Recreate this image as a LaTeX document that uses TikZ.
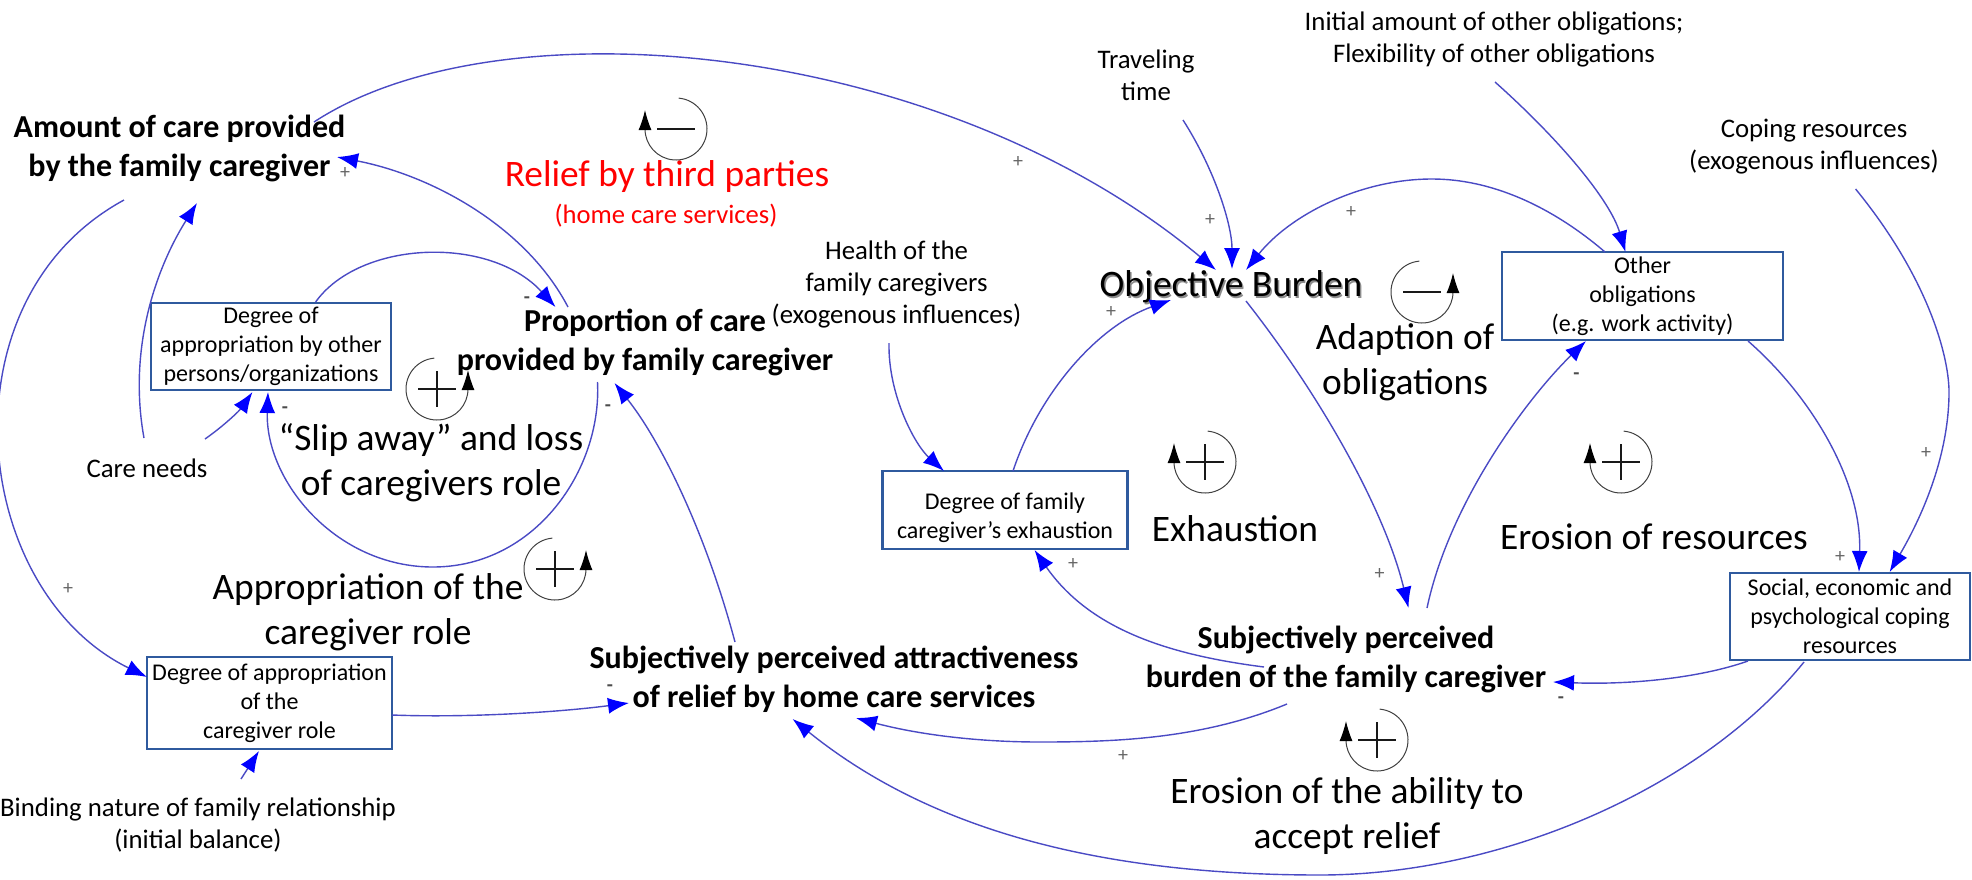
\documentclass[tikz,border=0pt]{standalone}
\usepackage{fontspec}
\setmainfont{Carlito}
\usetikzlibrary{arrows.meta}
\definecolor{lnkc}{HTML}{4A4AC4}
\definecolor{boxc}{HTML}{2F5A9E}
\definecolor{sgnc}{HTML}{666666}
\tikzset{
  x=0.5pt,y=-0.5pt,
  lnk/.style={draw=lnkc,line width=0.7pt,-{Latex[length=10.5pt,width=8pt,color=blue,fill=blue]}},
  blk/.style={inner sep=0pt,align=center},
  small/.style={blk,font=\fontsize{13.4}{16}\selectfont},
  boxt/.style={blk,draw=boxc,line width=1.2pt,font=\fontsize{12}{14.5}\selectfont},
  strong/.style={blk,font=\fontsize{16}{19.5}\selectfont\bfseries},
  large/.style={blk,font=\fontsize{18.7}{22.5}\selectfont},
  redl/.style={blk,text=red},
  sgn/.style={inner sep=0pt,text=sgnc,font=\fontsize{10}{10}\selectfont},
  sgm/.style={inner sep=0pt,text=black!70,font=\fontsize{10}{10}\selectfont\bfseries},
  looparc/.style={draw=black!75,line width=0.5pt},
  loopsign/.style={draw=black!90,line width=1pt},
  looptip/.style={draw=black,line width=0.5pt,-{Latex[length=10pt,width=6.5pt,color=black]}}
}
% centre x, centre y: arrow on the right of the circle
\newcommand{\loopright}[3][plus]{%
  \coordinate (lc) at (#2,#3);
  \draw[looparc] ([shift={(95:15.5pt)}]lc) arc[start angle=95,end angle=360,radius=15.5pt];
  \draw[looptip] ([shift={(31,0)}]lc) -- ([shift={(31,-19)}]lc);
  \draw[loopsign] ([shift={(-19,0)}]lc) -- ([shift={(19,0)}]lc);
  \ifx#1p\draw[loopsign] ([shift={(0,-18)}]lc) -- ([shift={(0,18)}]lc);\fi
}
\newcommand{\loopleft}[3][plus]{%
  \coordinate (lc) at (#2,#3);
  \draw[looparc] ([shift={(85:15.5pt)}]lc) arc[start angle=85,end angle=-180,radius=15.5pt];
  \draw[looptip] ([shift={(-31,0)}]lc) -- ([shift={(-31,-19)}]lc);
  \draw[loopsign] ([shift={(-19,0)}]lc) -- ([shift={(19,0)}]lc);
  \ifx#1p\draw[loopsign] ([shift={(0,-18)}]lc) -- ([shift={(0,18)}]lc);\fi
}
\begin{document}
\begin{tikzpicture}
\useasboundingbox (0,0) rectangle (1972,879);
% main variables
\node[strong] (amt) at (179.5,148.5) {Amount of care provided\\by the family caregiver};
\node[strong] (prop) at (645,342.5) {Proportion of care\\provided by family caregiver};
\node[strong] (attr) at (834,679) {Subjectively perceived attractiveness\\of relief by home care services};
\node[strong] (subb) at (1346,659.5) {Subjectively perceived\\burden of the family caregiver};
\node[blk,text=black!45,font=\fontsize{18.7}{22}\selectfont] (objs) at (1232.5,289) {Objective Burden};
\node[blk,font=\fontsize{18.7}{22}\selectfont] (obj) at (1231,287) {Objective Burden};
% boxes
\node[boxt,minimum width=120pt,minimum height=43.5pt] (apb) at (271,346.5) {Degree of\\appropriation by other\\persons/organizations};
\node[boxt,minimum width=122.5pt,minimum height=46pt] (dab) at (269.5,703) {Degree of appropriation\\of the\\caregiver role};
\node[boxt,minimum width=122.5pt,minimum height=39pt] (dfe) at (1005,510) {\rule{0pt}{16pt}Degree of family\\caregiver’s exhaustion};
\node[boxt,minimum width=140.5pt,minimum height=44pt] (oth) at (1642.5,296) {Other\\obligations\\(e.g. work activity)};
\node[boxt,minimum width=120pt,minimum height=43.5pt] (soc) at (1850,616.5) {Social, economic and\\psychological coping\\resources};
% exogenous labels
\node[small] (care) at (147,468) {Care needs};
\node[small] (bind) at (198,825) {Binding nature of family relationship\\(initial balance)};
\node[small] (health) at (896.5,284) {Health of the\\family caregivers\\(exogenous influences)};
\node[small] (trav) at (1146,75) {Traveling\\time};
\node[small] (init) at (1494,39) {Initial amount of other obligations;\\Flexibility of other obligations};
\node[small] (coping) at (1814,147) {Coping resources\\(exogenous influences)};
% loop names
\node[redl,font=\fontsize{18.7}{22}\selectfont] (relief) at (667,177) {Relief by third parties};
\node[redl,font=\fontsize{13.3}{16}\selectfont] (home) at (666,216) {(home care services)};
\node[large] (slip) at (431,462.5) {“Slip away” and loss\\of caregivers role};
\node[large] (appr) at (368,612.5) {Appropriation of the\\caregiver role};
\node[large] (adap) at (1405,362.5) {Adaption of\\obligations};
\node[large] (exh) at (1235,529) {Exhaustion};
\node[large] (eres) at (1654,537) {Erosion of resources};
\node[large] (eabl) at (1347,816.5) {Erosion of the ability to\\accept relief};
% loop symbols
\loopleft[m]{676}{129}
\loopright[m]{1422}{292}
\loopright[p]{437}{389}
\loopright[p]{555}{569}
\loopleft[p]{1205}{462}
\loopleft[p]{1621}{462}
\loopleft[p]{1377}{740}
% connectors
\draw[lnk] ([shift={(134.5,-26.5)}]amt.center) .. controls (500,0) and (940,40) .. ([shift={(-15,-17)}]obj.center);
\draw[lnk] ([shift={(-77,-35.5)}]prop.center) .. controls (525,225) and (430,175) .. ([shift={(157.5,8.5)}]amt.center);
\draw[lnk] ([shift={(-3,-30)}]care.center) .. controls (128,350) and (155,270) .. ([shift={(17.5,54.5)}]amt.center);
\draw[lnk] ([shift={(-55.5,51.5)}]amt.center) .. controls (-60,300) and (-30,590) .. ([shift={(-122.5,-26)}]dab.center);
\draw[lnk] ([shift={(44.6,-44.5)}]apb.center) .. controls (360,240) and (490,235) .. ([shift={(-89.5,-35.5)}]prop.center);
\draw[lnk] ([shift={(58,-29)}]care.center) .. controls (225,425) and (240,410) .. ([shift={(-18.5,45.5)}]apb.center);
\draw[lnk] ([shift={(-47.5,39.5)}]prop.center) .. controls (602,470) and (535,567) .. (433,567) .. controls (335,567) and (265,480) .. ([shift={(-3,45.5)}]apb.center);
\draw[lnk] ([shift={(-99,-37)}]attr.center) .. controls (705,530) and (660,440) .. ([shift={(-30.5,40.5)}]prop.center);
\draw[lnk] ([shift={(122.5,12)}]dab.center) .. controls (470,718) and (560,712) .. ([shift={(-205,24)}]attr.center);
\draw[lnk] ([shift={(43,-46)}]bind.center) -- ([shift={(-10.5,48)}]dab.center);
\draw[lnk] ([shift={(-7.5,59)}]health.center) .. controls (888,395) and (915,445) .. ([shift={(-61,-39)}]dfe.center);
\draw[lnk] ([shift={(8,-39)}]dfe.center) .. controls (1040,390) and (1100,325) .. ([shift={(-60,13)}]obj.center);
\draw[lnk] ([shift={(37,45)}]trav.center) .. controls (1215,170) and (1232,225) .. ([shift={(1,-18)}]obj.center);
\draw[lnk] ([shift={(-37.5,-44)}]oth.center) .. controls (1550,205) and (1490,179) .. (1432,179) .. controls (1360,179) and (1290,215) .. ([shift={(15,-17)}]obj.center);
\draw[lnk] ([shift={(1,43)}]init.center) .. controls (1560,140) and (1610,200) .. ([shift={(-17,-44)}]oth.center);
\draw[lnk] ([shift={(15,14)}]obj.center) .. controls (1320,395) and (1385,510) .. ([shift={(62.5,-51.5)}]subb.center);
\draw[lnk] ([shift={(81,-51.5)}]subb.center) .. controls (1450,500) and (1530,395) .. ([shift={(-56.5,45)}]oth.center);
\draw[lnk] ([shift={(-82,7.5)}]subb.center) .. controls (1170,655) and (1090,630) .. ([shift={(29.5,40)}]dfe.center);
\draw[lnk] ([shift={(-59,44.5)}]subb.center) .. controls (1200,740) and (1110,742) .. (1039,742) .. controls (980,742) and (920,735) .. ([shift={(22,39)}]attr.center);
\draw[lnk] ([shift={(-102,44.5)}]soc.center) .. controls (1700,678) and (1630,685) .. ([shift={(207,22.5)}]subb.center);
\draw[lnk] ([shift={(105.5,45)}]oth.center) .. controls (1810,395) and (1862,480) .. ([shift={(9,-44.5)}]soc.center);
\draw[lnk] ([shift={(41.6,42)}]coping.center) .. controls (1930,280) and (1950,360) .. (1949,395) .. controls (1948,460) and (1920,520) .. ([shift={(39.6,-44.5)}]soc.center);
\draw[lnk] ([shift={(-46,45.5)}]soc.center) .. controls (1700,790) and (1500,875) .. (1320,875) .. controls (1100,875) and (930,830) .. ([shift={(-41.4,40)}]attr.center);
% polarity signs
\node[sgn] (p1) at (345,173) {+};
\node[sgn] (p2) at (1018,162) {+};
\node[sgn] (p3) at (1210,220) {+};
\node[sgn] (p4) at (1111,312) {+};
\node[sgn] (p5) at (1351,212) {+};
\node[sgn] (p6) at (1926,453) {+};
\node[sgn] (p7) at (1840,557) {+};
\node[sgn] (p8) at (1379.5,574) {+};
\node[sgn] (p9) at (1073,564) {+};
\node[sgn] (p10) at (1123,756) {+};
\node[sgn] (p11) at (68,589) {+};
\node[sgm] (m1) at (1576.5,376) {-};
\node[sgm] (m2) at (1561,700) {-};
\node[sgm] (m3) at (610,688) {-};
\node[sgm] (m4) at (285,410) {-};
\node[sgm] (m5) at (608,408) {-};
\node[sgm] (m6) at (527,300) {-};
\end{tikzpicture}
\end{document}
